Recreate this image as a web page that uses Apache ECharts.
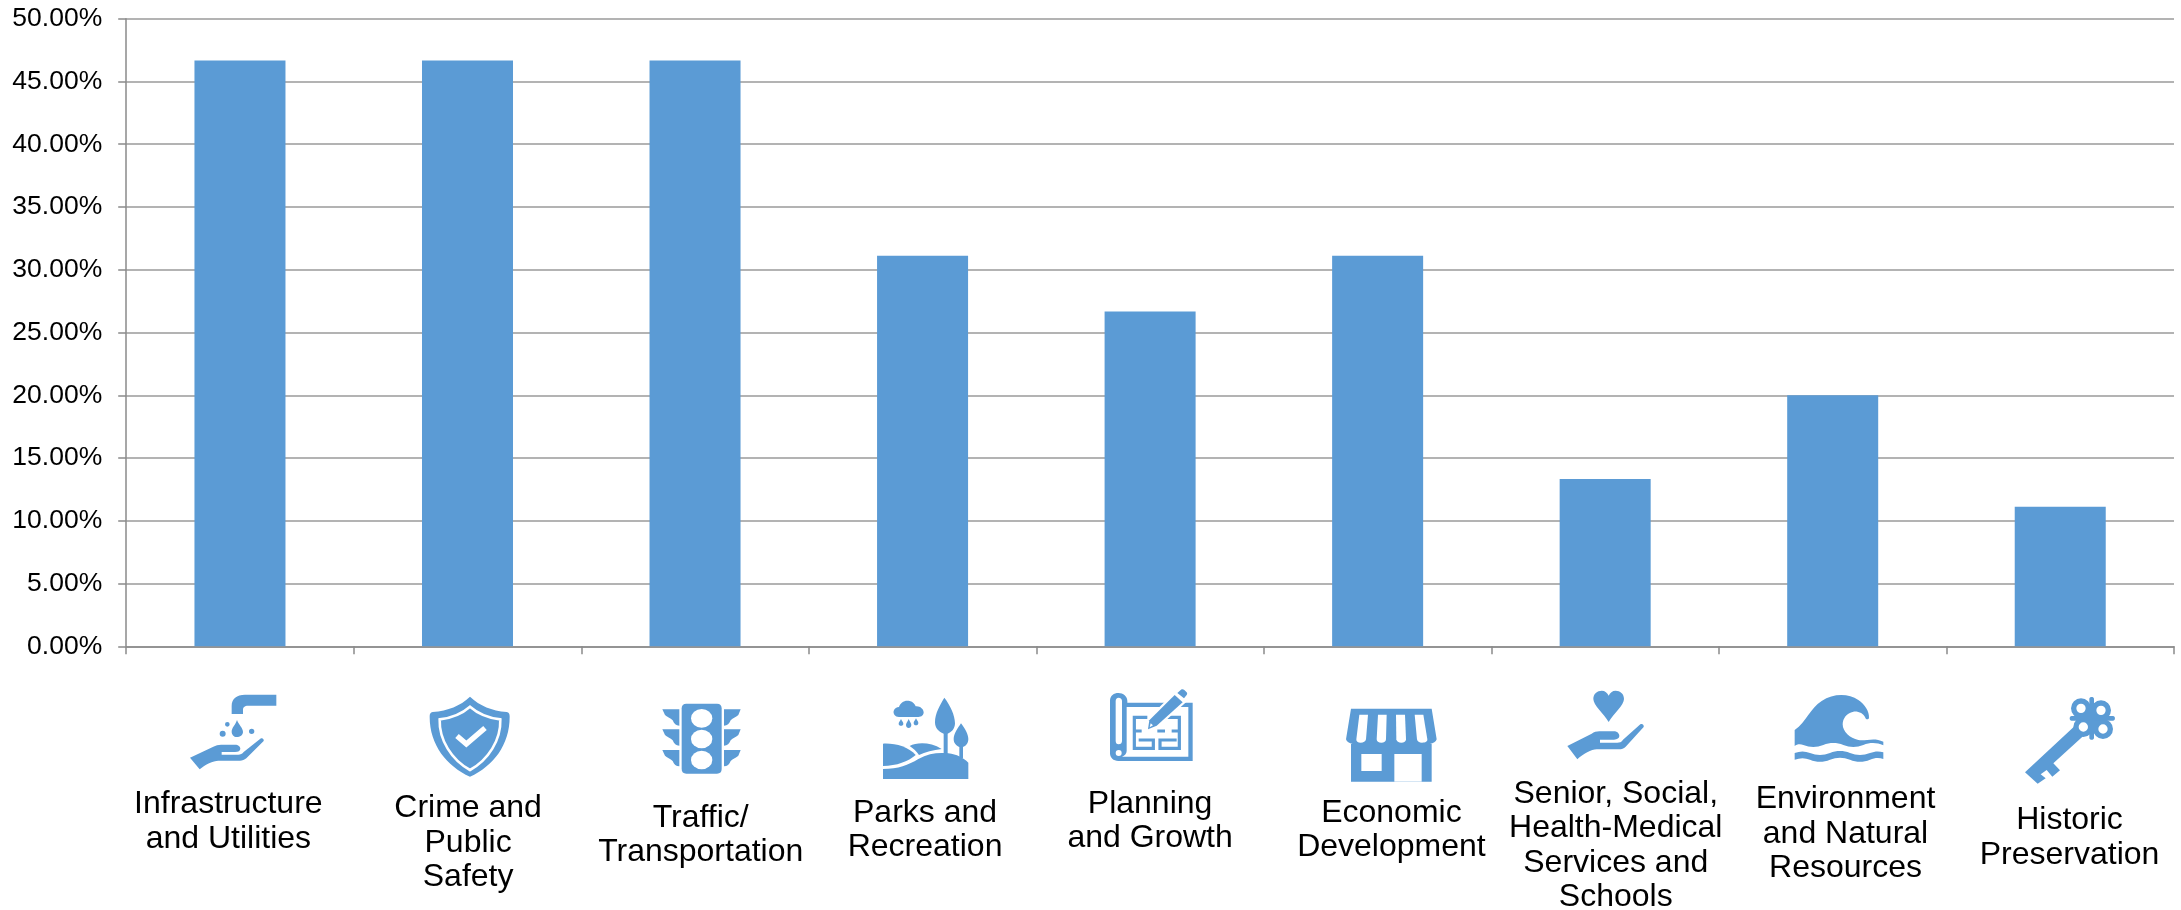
<!DOCTYPE html>
<html>
<head>
<meta charset="utf-8">
<style>html,body{margin:0;padding:0;background:#fff}#c{width:2181px;height:910px}</style>
<script src="https://cdn.jsdelivr.net/npm/echarts@6/dist/echarts.min.js"></script>
</head>
<body>
<div id="c"></div>
<script>
const categories = [
  'Infrastructure\nand Utilities',
  'Crime and\nPublic\nSafety',
  'Traffic/\nTransportation',
  'Parks and\nRecreation',
  'Planning\nand Growth',
  'Economic\nDevelopment',
  'Senior, Social,\nHealth-Medical\nServices and\nSchools',
  'Environment\nand Natural\nResources',
  'Historic\nPreservation'
];
const shares = [46.67, 46.67, 46.67, 31.11, 26.67, 31.11, 13.33, 20, 11.11];

// label layout (separate from data): drop below axis, horizontal shift
const labelDrop = [141, 145, 154.4, 149.4, 140.4, 149.7, 130.4, 136, 157];
const labelShift = [-11.6, 0.6, 5.7, 2.5, 0, 13.8, 10.6, 12.8, 9.3];

const BLUE = '#5B9BD5';
const circ = (x, y, r) => `M${x - r} ${y}a${r} ${r} 0 1 0 ${2 * r} 0a${r} ${r} 0 1 0 ${-2 * r} 0Z`;
const wingL = d => `M37 ${43 + d}L88 ${43 + d}L88 ${92 + d}C78 ${92 + d} 72 ${86 + d} 68 ${76 + d}C62 ${68 + d} 50 ${66 + d} 45 ${60 + d}Z`;
const wingR = d => `M272 ${43 + d}L222 ${43 + d}L222 ${92 + d}C232 ${92 + d} 238 ${86 + d} 242 ${76 + d}C248 ${68 + d} 260 ${66 + d} 265 ${60 + d}Z`;
const PEN = 'M224 30L248 52L170 122L144 133L148 106Z';

// Icon art: [left, top, parts], drawn on a 300x270 canvas mapped to 100x90 px
const icons = [
  [185, 690, [
    ['f', 'M140 72L140 48C140 26 155 14 180 14L274 14L274 47L190 47C178 47 174 52 174 60L174 72Z'],
    ['f', 'M156 90C162 106 174 114 174 126C174 135 165 141 155 141C146 141 140 133 140 125C140 113 151 106 156 90Z'],
    ['f', circ(127, 103, 7) + circ(113, 131, 9) + circ(200, 124, 8)],
    ['f', 'M15 203L85 170C92 166 100 164 108 164L150 164C160 164 166 170 166 176C166 182 160 186 150 186L110 186L110 194L160 194C166 194 172 192 176 186L226 146C232 142 238 148 236 153L184 205C178 210 172 212 165 212L100 212C85 212 60 224 44 238Z']
  ]],
  [425, 690, [
    ['f', 'M135 20C165 48 200 62 245 66C252 67 254 72 254 80C254 165 205 228 135 260C65 228 14 165 14 80C14 72 16 67 23 66C70 62 105 48 135 20Z'],
    ['s', 'M135 50C160 72 190 84 226 88C228 150 190 210 135 240C80 210 42 150 44 88C80 84 110 72 135 50Z', 2.6],
    ['s', 'M96 138L124 162L180 114', 5.4]
  ]],
  [650, 695, [
    ['f', 'M109 26L201 26Q215 26 215 40L215 222Q215 236 201 236L109 236Q95 236 95 222L95 40Q95 26 109 26Z'],
    ['w', `M123 70a32 28 0 1 0 64 0a32 28 0 1 0 -64 0Z`],
    ['w', `M123 132a32 28 0 1 0 64 0a32 28 0 1 0 -64 0Z`],
    ['w', `M123 195a32 28 0 1 0 64 0a32 28 0 1 0 -64 0Z`],
    ['f', wingL(0) + wingL(60) + wingL(122) + wingR(0) + wingR(60) + wingR(122)]
  ]],
  [875, 695, [
    ['f', 'M72 66C60 66 54 56 56 48C58 40 66 36 72 36C76 22 90 14 104 18C114 20 120 28 122 34C134 32 146 42 146 52C146 60 140 66 130 66Z'],
    ['f', 'M78 72C82 80 85 82 85 86C85 90 82 92 78 92C74 92 71 90 71 86C71 82 74 80 78 72ZM101 72C105 82 109 85 109 90C109 96 105 99 101 99C97 99 93 96 93 90C93 85 97 82 101 72ZM123 70C127 78 130 80 130 84C130 88 127 91 123 91C119 91 116 88 116 84C116 80 119 78 123 70Z'],
    ['f', 'M208 8C225 30 240 60 240 85C240 102 228 113 218 116L218 178L206 176L206 116C190 110 180 98 180 82C180 55 195 30 208 8Z'],
    ['f', 'M258 85C270 100 280 118 280 132C280 145 272 153 264 156L264 190L253 188L253 156C244 152 236 145 236 132C236 116 248 100 258 85Z'],
    ['f', 'M24 146C60 144 100 155 122 180C100 200 65 212 24 213Z'],
    ['f', 'M104 153C125 142 165 140 200 162C175 165 150 172 132 180C125 170 115 160 104 153Z'],
    ['f', 'M24 222C70 222 100 210 130 192C160 175 190 172 220 175C245 178 265 188 280 203L280 252L24 252Z']
  ]],
  [1100, 685, [
    ['f', 'M30 48C30 32 42 24 55 24C70 24 82 34 82 48L82 53L278 53L278 228L55 228C40 228 30 218 30 205Z'],
    ['w', 'M80 66L265 66L265 215L66 215C74 212 80 206 80 198Z'],
    ['w', 'M47 48C47 42 50 38 56 38C62 38 66 42 66 48L66 168C66 174 62 178 56 178C50 178 47 174 47 168Z'],
    ['w', circ(56, 204, 9)],
    ['b', 'M142 97L103 97L103 190L160 190L160 165L116 165M103 138L125 138', 3.2],
    ['b', 'M172 118L172 97L238 97L238 190L180 190L180 165L230 165M172 138L195 138M215 138L238 138', 3.2],
    ['s', PEN, 4.5],
    ['s', 'M232 26L258 46', 2],
    ['f', PEN],
    ['f', 'M232 24L243 14C246 12 250 12 253 15L260 22C262 25 262 28 260 30L252 40Z'],
    ['w', 'M149 127L152 115L159 121Z']
  ]],
  [1340, 700, [
    ['f', 'M33 26L275 26L290 118C288 126 280 130 270 132L275 132L275 245L33 245L33 132L38 132C28 130 20 126 18 118Z'],
    ['w', 'M58 44L84 44L78 118C77 125 70 128 62 128C54 128 48 125 49 118Z'],
    ['w', 'M114 44L140 44L138 118C138 125 132 128 124 128C116 128 110 125 110 118Z'],
    ['w', 'M168 44L195 44L198 118C198 125 192 128 184 128C176 128 170 125 169 118Z'],
    ['w', 'M224 44L250 44L262 118C263 125 256 128 246 128C238 128 232 125 231 118Z'],
    ['w', 'M64 162L125 162L125 213L64 213Z'],
    ['w', 'M163 162L245 162L245 245L163 245Z']
  ]],
  [1560, 685, [
    ['f', 'M146 111C130 85 100 60 100 42C100 26 112 17 125 17C135 17 142 23 146 32C150 23 157 17 167 17C180 17 192 26 192 42C192 60 162 85 146 111Z'],
    ['f', 'M22 183L95 146C102 141 110 139 118 139L162 139C172 139 178 146 178 153C178 159 172 164 162 164L120 164L120 173L172 173C178 173 185 171 189 164L241 118C247 114 253 121 251 126L197 185C191 191 185 193 177 193L110 193C95 193 69 207 52 223Z']
  ]],
  [1790, 685, [
    ['f', 'M14 135C50 110 60 70 95 48C130 25 175 25 205 45C225 58 238 80 237 98C236 104 228 104 226 98C220 85 205 78 190 80C170 84 158 100 158 118C158 140 180 160 205 165C225 170 250 155 280 170L280 181C260 172 240 172 220 180C200 188 180 188 160 180C140 172 120 172 100 180C80 188 60 188 40 180C30 176 20 178 14 183Z'],
    ['f', 'M14 204C30 198 45 198 60 204C80 212 100 212 120 204C140 196 160 196 180 204C200 212 220 212 240 204C255 198 268 198 280 202L280 222C268 218 255 218 240 224C220 232 200 232 180 224C160 216 140 216 120 224C100 232 80 232 60 224C45 218 30 218 14 224Z']
  ]],
  [2025, 695, [
    ['f', circ(168, 40, 30) + circ(228, 46, 30) + circ(175, 96, 30) + circ(234, 102, 30)],
    ['f', 'M180 40L240 50L240 100L180 100Z'],
    ['f', 'M193 12C193 4 207 4 207 12L207 128C207 136 193 136 193 128ZM140 63L264 63C272 63 272 77 264 77L140 77C132 77 132 63 140 63Z'],
    ['f', 'M150 92L174 124L85 205L105 226L82 245L65 225L47 238L62 250L38 266L0 232Z'],
    ['w', circ(168, 40, 14) + circ(228, 46, 14) + circ(175, 96, 14) + circ(234, 102, 14)]
  ]]
];

const rich = {};
categories.forEach((c, i) => {
  rich['s' + i] = { lineHeight: labelDrop[i], fontSize: 1, color: 'transparent' };
  const d = labelShift[i];
  rich['t' + i] = {
    fontFamily: '"Liberation Sans", Arial, sans-serif',
    fontSize: 32,
    lineHeight: 34.4,
    color: '#000',
    padding: [0, d < 0 ? -2 * d : 0, 0, d > 0 ? 2 * d : 0]
  };
});

const styleOf = (kind, w) => {
  if (kind === 'f') return { fill: BLUE };
  if (kind === 'w') return { fill: '#fff' };
  if (kind === 's') return { fill: 'none', stroke: '#fff', lineWidth: w };
  return { fill: 'none', stroke: BLUE, lineWidth: w };
};

const chart = echarts.init(document.getElementById('c'), null, { renderer: 'canvas' });
chart.setOption({
  animation: false,
  backgroundColor: '#fff',
  grid: { left: 126.2, right: 7, top: 18.7, bottom: 263.7, containLabel: false, outerBoundsMode: 'none' },
  xAxis: {
    type: 'category',
    data: categories,
    axisLine: { lineStyle: { color: '#8a8a8a', width: 1.5 } },
    axisTick: { show: true, alignWithLabel: false, length: 8, lineStyle: { color: '#8a8a8a', width: 1.5 } },
    axisLabel: {
      interval: 0,
      margin: 0,
      hideOverlap: false,
      verticalAlign: 'top',
      rich,
      formatter: (v, i) => `{s${i}| }\n` + v.split('\n').map(l => `{t${i}|${l}}`).join('\n')
    }
  },
  yAxis: {
    type: 'value',
    min: 0,
    max: 50,
    interval: 5,
    axisLine: { show: true, lineStyle: { color: '#8a8a8a', width: 1.5 } },
    axisTick: { show: true, length: 8, lineStyle: { color: '#8a8a8a', width: 1.5 } },
    splitLine: { show: true, lineStyle: { color: '#9a9a9a', width: 1.5 } },
    axisLabel: {
      margin: 24,
      fontFamily: '"Liberation Sans", Arial, sans-serif',
      fontSize: 26.5,
      color: '#000',
      formatter: v => v.toFixed(2) + '%'
    }
  },
  series: [
    {
      type: 'bar',
      data: shares,
      barWidth: '40%',
      itemStyle: { color: BLUE },
      silent: true
    },
    {
      type: 'custom',
      coordinateSystem: 'none',
      silent: true,
      clip: false,
      data: icons.map((_, i) => i),
      renderItem: (params) => {
        const [x, y, parts] = icons[params.dataIndex];
        return {
          type: 'group',
          children: parts.map(p => ({
            type: 'path',
            shape: { pathData: 'M0 0M300 270' + p[1], x, y, width: 100, height: 90, layout: 'cover' },
            style: styleOf(p[0], p[2])
          }))
        };
      }
    }
  ]
});
</script>
</body>
</html>
